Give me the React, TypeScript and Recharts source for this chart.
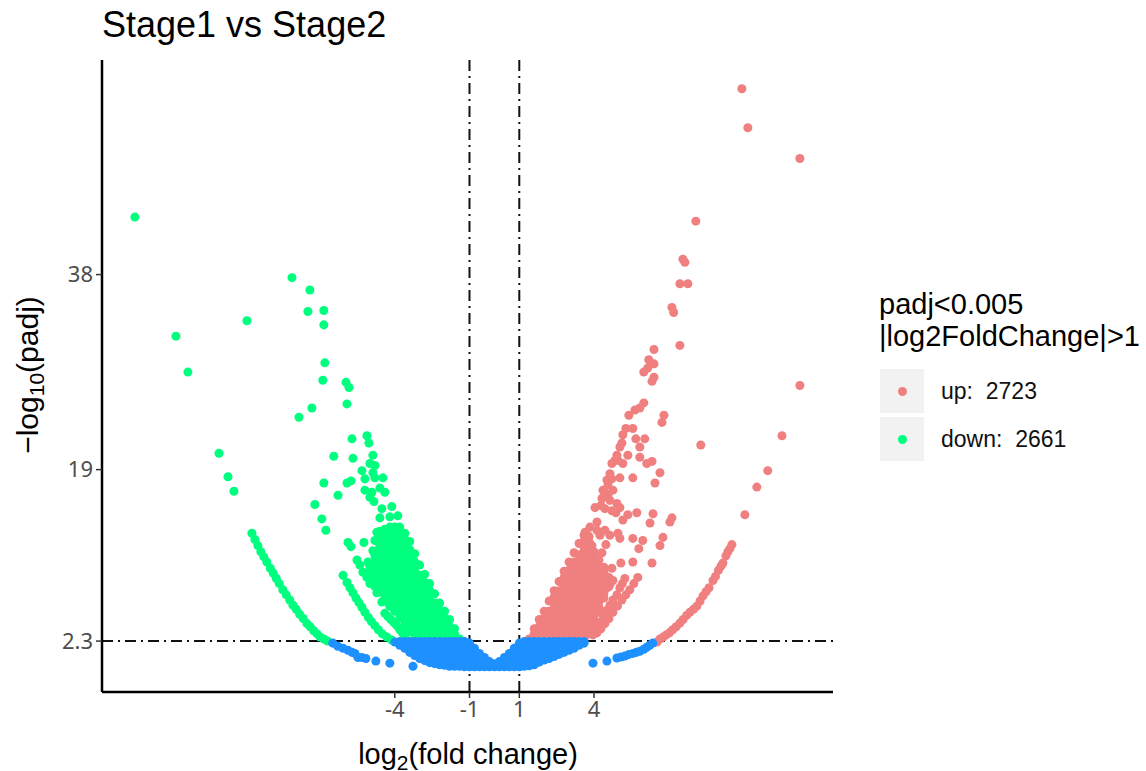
import React from 'react';
import { ScatterChart, Scatter, XAxis, YAxis, ZAxis, ReferenceLine } from 'recharts';

const W = 1146;
const H = 771;

const xTicks = [-4, -1, 1, 4];
const yTicks = [2.3, 19, 38];
const cutoffsX = [-1, 1];
const cutoffY = 2.3;
const legendTitle = ['padj<0.005', '|log2FoldChange|>1'];

const UP = '#F08080';
const DOWN = '#00FF7F';
const NS = '#1E90FF';
const SANS = '"Liberation Sans", Arial, sans-serif';

// isolated genes [log2fc, -log10padj]
const downSparse = [
  [-14.44, 43.6], [-12.79, 32], [-12.31, 28.5], [-11.06, 20.6], [-10.7, 18.3], [-10.46, 16.9],
  [-8.13, 37.7], [-7.41, 36.5], [-7.49, 34.4], [-6.85, 34.5], [-6.85, 33.1], [-9.94, 33.5],
  [-6.81, 29.4], [-6.89, 27.7], [-5.96, 27.5], [-5.84, 27], [-5.92, 25.4], [-7.33, 25], [-7.85, 24.1],
  [-5.72, 22], [-5.12, 22.3], [-5.04, 21.6], [-6.45, 20.3], [-5.68, 20.1], [-4.88, 20.4], [-5, 19.6],
  [-4.8, 19.4], [-5.32, 18.9], [-4.88, 18.7], [-5.2, 18.1], [-4.8, 18.2], [-4.48, 18.2], [-6.85, 17.7],
  [-5.76, 17.9], [-5.92, 17.7], [-5.2, 17], [-4.6, 17.2], [-4.4, 16.8], [-4.92, 16.8], [-6.28, 16.5],
  [-5, 16.3], [-4.84, 15.9], [-7.21, 15.6], [-4.52, 15.2], [-4.12, 15.4], [-6.93, 14.2], [-6.77, 13.1],
  [-4.6, 14.3], [-4.2, 14.4], [-3.88, 14.5], [-5.88, 11.9], [-5.76, 11.5], [-5.24, 11.9], [-5.52, 10.2],
  [-5.4, 9.7], [-5.08, 10], [-4.8, 12.1], [-4.72, 12.9], [-4.88, 11.1], [-5.28, 9], [-5.12, 8.5],
  [-5, 7.9], [-4.72, 7], [-4.52, 6.1],
];

// outer arcs of the volcano
const downArcFar = [
  [-9.74, 12.8], [-9.62, 12.2], [-9.5, 11.6], [-9.38, 11], [-9.26, 10.5], [-9.14, 10], [-9, 9.4], [-8.88, 8.9],
  [-8.76, 8.4], [-8.64, 7.9], [-8.5, 7.3], [-8.36, 6.8], [-8.22, 6.3], [-8.09, 5.8], [-7.96, 5.4], [-7.82, 4.9],
  [-7.68, 4.5], [-7.53, 4], [-7.4, 3.7], [-7.26, 3.3], [-7.12, 3], [-7, 2.7], [-6.85, 2.5], [-6.7, 2.3],
];
const downArcNear = [
  [-6.08, 8.7], [-5.92, 8], [-5.8, 7.5], [-5.68, 7], [-5.56, 6.5], [-5.44, 6.05], [-5.32, 5.6], [-5.2, 5.1],
  [-5.06, 4.6], [-4.94, 4.2], [-4.8, 3.8], [-4.66, 3.4], [-4.5, 3], [-4.32, 2.7], [-4.12, 2.4],
  [-4.4, 5], [-4.28, 4.7], [-4.16, 4.4], [-4.04, 4.1], [-3.92, 3.8], [-3.8, 3.4], [-3.7, 3.1], [-3.6, 2.8],
];

// dense part, one row per x: [x, y, y, ...]
const downCloud = [
  [-1.4, 2.5],
  [-1.6, 2.5, 3, 3.5],
  [-1.8, 2.7, 3.2, 3.7, 4.4],
  [-2, 2.5, 3, 3.5, 4, 4.5, 5.2],
  [-2.2, 2.7, 3.2, 3.7, 4.2, 4.7, 5.2, 6],
  [-2.4, 2.5, 3, 3.5, 4, 4.5, 5, 5.5, 6, 6.9],
  [-2.6, 2.7, 3.2, 3.7, 4.2, 4.7, 5.2, 5.7, 6.2, 6.7, 7.2, 7.9],
  [-2.8, 2.5, 3, 3.5, 4, 4.5, 5, 5.5, 6, 6.5, 7, 7.5, 8, 8.8],
  [-3, 2.7, 3.2, 3.7, 4.2, 4.7, 5.2, 5.7, 6.2, 6.7, 7.2, 7.7, 8.2, 8.7, 9.7],
  [-3.2, 2.5, 3, 3.5, 4, 4.5, 5, 5.5, 6, 6.5, 7, 7.5, 8, 8.5, 9, 9.5, 10, 10.8],
  [-3.4, 3.2, 3.7, 4.2, 4.7, 5.2, 5.7, 6.2, 6.7, 7.2, 7.7, 8.2, 8.7, 9.2, 9.7, 10.2, 10.7, 11.2, 12],
  [-3.6, 3.7, 4.2, 4.7, 5.2, 5.7, 6.2, 6.7, 7.2, 7.7, 8.2, 8.7, 9.2, 9.7, 10.2, 10.7, 11.2, 11.7, 12.2, 12.8],
  [-3.8, 4.6, 5, 5.5, 6, 6.5, 7, 7.5, 8, 8.5, 9, 9.5, 10, 10.5, 11, 11.5, 12, 12.5, 13, 13.4],
  [-4, 5.2, 5.7, 6.2, 6.7, 7.2, 7.7, 8.2, 8.7, 9.2, 9.7, 10.2, 10.7, 11.2, 11.7, 12.2, 12.7, 13.4],
  [-4.2, 5.7, 6.2, 6.7, 7.2, 7.7, 8.2, 8.7, 9.2, 9.7, 10.2, 10.7, 11.2, 11.7, 12.2, 12.7, 13.4],
  [-4.4, 6.2, 6.7, 7.2, 7.7, 8.2, 8.7, 9.2, 9.7, 10.2, 10.7, 11.2, 11.7, 12.2, 12.7, 13.2],
  [-4.6, 7.1, 7.6, 8.1, 8.6, 9.1, 9.6, 10.1, 10.6, 11.1, 11.6, 12.1, 12.6, 13],
  [-4.8, 7.6, 8.1, 8.6, 9.1, 9.6, 10.1, 10.6, 11],
  [-5, 8.6, 9.1, 9.6],
];

const upSparse = [
  [9.94, 56.1], [10.18, 52.3], [12.27, 49.3], [12.27, 27.2], [8.09, 43.2], [7.57, 39.5], [7.65, 39.2],
  [7.45, 37.1], [7.77, 37.1], [7.13, 34.8], [7.2, 34.3], [7.45, 31.1], [8.29, 21.4], [11.55, 22.3],
  [10.98, 18.9], [10.54, 17.3], [10.06, 14.6], [6.41, 30.7], [6.2, 29.7], [6.41, 29.3], [6.16, 28.9],
  [6, 28.5], [6.41, 28], [6.33, 27.6], [6, 25.5], [5.84, 25], [5.64, 24.8], [5.4, 24.3], [6.81, 24.3],
  [6.73, 23.6], [5.56, 23], [5.28, 23], [5.16, 22.4], [5.68, 22], [6.04, 22], [5.84, 21.2], [5.04, 21.2],
  [5.36, 20.4], [5.84, 20.2], [6.12, 19.6], [6.33, 19.8], [6.65, 18.7], [6.45, 17.7], [5.56, 18.2],
  [5.04, 18.2], [5.72, 14.8], [5.36, 14.6], [5.16, 14.1], [6.37, 14.7], [6.25, 13.8], [7.13, 14.3],
  [7.05, 13.9], [5.04, 15.3], [4.04, 15.3], [4.44, 15.2], [4.96, 12.8], [5.04, 12.3], [5.56, 12.3],
  [5.96, 12.1], [5.8, 11.3], [6.77, 12.4], [6.65, 11.6], [4.48, 11.7], [4.32, 10.9], [4.72, 9.4],
  [5.08, 9.9], [5.56, 10], [6.33, 9.9], [3.84, 13.4], [4.12, 13.9], [4.12, 13.1], [4.44, 13.1],
  [4.64, 12.6], [4.24, 12.6], [3.92, 11.6], [3.64, 12.9], [5.12, 21.6], [4.92, 20.4], [5.16, 19.6],
  [4.72, 19.6], [4.64, 18.6], [4.56, 17.5], [4.76, 17], [4.36, 17], [4.32, 16.2], [4.64, 16],
  [4.92, 15.7], [4.44, 16.7], [4.52, 18], [4.84, 19.9], [4.96, 19.9], [4.28, 15.5], [4.72, 18.1],
  [4.56, 16.5], [4.72, 15], [4.88, 14.8],
];

const upArcFar = [
  [6.53, 2.2], [6.65, 2.5], [6.78, 2.7], [6.9, 2.9], [7.03, 3.1], [7.16, 3.4], [7.3, 3.7], [7.45, 4.05],
  [7.58, 4.4], [7.72, 4.8], [7.85, 5.1], [8, 5.4], [8.13, 5.7], [8.26, 6.2], [8.38, 6.7], [8.5, 7.1],
  [8.62, 7.5], [8.78, 8.2], [8.88, 8.6], [9, 9.2], [9.1, 9.6], [9.18, 9.9], [9.3, 10.6], [9.38, 11],
  [9.46, 11.3], [9.54, 11.7],
];
const upArcNear = [
  [3.96, 2.9], [4.1, 3.5], [4.24, 4.1], [4.38, 4.7], [4.52, 5.3], [4.64, 5.8], [4.76, 6.3], [4.92, 6.8],
  [4.12, 3.1], [4.28, 3.5], [4.44, 4], [4.6, 4.5], [4.76, 5.1], [4.94, 5.7], [5.12, 6.3], [5.28, 6.8],
  [5.44, 7.3], [5.6, 7.9], [5.76, 8.5], [5.04, 7.5], [5.14, 7.9], [5.24, 8.4], [4.52, 7.5], [4.64, 7.8],
  [4.76, 8.2],
];

const upCloud = [
  [1.4, 2.5],
  [1.6, 2.5, 3, 3.5],
  [1.8, 2.7, 3.2, 3.7, 4.4],
  [2, 2.5, 3, 3.5, 4, 4.5, 5.2],
  [2.2, 2.7, 3.2, 3.7, 4.2, 4.7, 5.2, 6.2],
  [2.4, 2.5, 3, 3.5, 4, 4.5, 5, 5.5, 6, 6.6, 7.2],
  [2.6, 2.7, 3.2, 3.7, 4.2, 4.7, 5.2, 5.7, 6.2, 6.7, 7.2, 8.1],
  [2.8, 2.5, 3, 3.5, 4, 4.5, 5, 5.5, 6, 6.5, 7, 7.5, 8, 8.5, 9.1],
  [3, 2.7, 3.2, 3.7, 4.2, 4.7, 5.2, 5.7, 6.2, 6.7, 7.2, 7.7, 8.2, 8.7, 9.2, 10],
  [3.2, 2.5, 3, 3.5, 4, 4.5, 5, 5.5, 6, 6.5, 7, 7.5, 8, 8.5, 9, 9.5, 10, 10.9],
  [3.4, 2.7, 3.2, 3.7, 4.2, 4.7, 5.2, 5.7, 6.2, 6.7, 7.2, 7.7, 8.2, 8.7, 9.2, 9.7, 10.2, 10.7, 11.8],
  [3.6, 2.5, 3, 3.5, 4, 4.5, 5, 5.5, 6, 6.5, 7, 7.5, 8, 8.5, 9, 9.5, 10, 10.5, 11, 11.5, 12, 12.6],
  [3.8, 3, 3.5, 4, 4.5, 5, 5.5, 6, 6.5, 7, 7.5, 8, 8.5, 9, 9.5, 10, 10.5, 11, 11.5, 12, 12.5],
  [4, 4, 4.5, 5, 5.5, 6, 6.5, 7, 7.5, 8, 8.5, 9, 9.5, 10, 10.5, 11],
  [4.2, 5.1, 5.6, 6.1, 6.6, 7.1, 7.6, 8.1, 8.6, 9.1, 9.6, 10.2],
  [4.4, 6.5, 7, 7.5, 8, 8.5, 9, 9.5],
  [4.6, 7.6, 8.5],
];

const nsCloud = [
  [-4, 2.2],
  [-3.8, 1.9, 2.25],
  [-3.6, 1.6, 2.25],
  [-3.4, 1.2, 1.7, 2.25],
  [-3.2, 0.9, 1.4, 1.85, 2.25],
  [-3, 0.6, 1.1, 1.6, 2.25],
  [-2.8, 0.4, 0.9, 1.4, 1.85, 2.25],
  [-2.6, 0.2, 0.7, 1.2, 1.7, 2.25],
  [-2.4, 0.1, 0.6, 1.1, 1.6, 2.25],
  [-2.2, 0, 0.45, 0.95, 1.45, 1.9, 2.25],
  [-2, -0.05, 0.4, 0.9, 1.35, 1.8, 2.25],
  [-1.8, -0.15, 0.3, 0.8, 1.3, 1.8, 2.25],
  [-1.6, -0.15, 0.45, 0.95, 1.45, 1.9, 2.25],
  [-1.4, -0.15, 0.3, 0.8, 1.3, 1.8, 2.25],
  [-1.2, -0.2, 0.45, 0.95, 1.45, 1.9, 2.25],
  [-1, -0.2, 0.3, 0.8, 1.3, 1.8, 2.1],
  [-0.8, -0.2, 0.45, 0.95, 1.3, 1.6],
  [-0.6, -0.2, 0.3, 0.8, 1.1],
  [-0.4, -0.2, 0.25, 0.7],
  [-0.2, -0.2, 0.3],
  [0, -0.2, 0.1],
  [0.2, -0.2, 0.3],
  [0.4, -0.2, 0.25, 0.7],
  [0.6, -0.2, 0.3, 0.8, 1.1],
  [0.8, -0.2, 0.45, 0.95, 1.3, 1.6],
  [1, -0.2, 0.3, 0.8, 1.3, 1.8, 2.1],
  [1.2, -0.15, 0.45, 0.95, 1.45, 1.9, 2.25],
  [1.4, -0.1, 0.3, 0.8, 1.3, 1.8, 2.25],
  [1.6, 0, 0.45, 0.95, 1.45, 1.9, 2.25],
  [1.8, 0.25, 0.7, 1.2, 1.7, 2.25],
  [2, 0.45, 0.9, 1.35, 1.8, 2.25],
  [2.2, 0.6, 1.1, 1.6, 2.25],
  [2.4, 0.8, 1.25, 1.75, 2.25],
  [2.6, 1, 1.5, 2.25],
  [2.8, 1.2, 1.7, 2.25],
  [3, 1.4, 1.85, 2.25],
  [3.2, 1.6, 2.25],
  [3.4, 1.9, 2.25],
  [3.6, 2.1, 2.25],
];

const nsTails = [
  [-6.49, 2.1], [-6.29, 1.8], [-6.08, 1.6], [-5.88, 1.4], [-5.72, 1.2], [-5.6, 1.1], [-5.48, 0.7], [-5.32, 0.7],
  [-5.16, 0.6], [-4.76, 0.35], [-4.2, 0.15], [-3.27, -0.15],
  [3.96, 0.15], [4.52, 0.35], [4.92, 0.65], [5.08, 0.75], [5.24, 0.85], [5.4, 1], [5.56, 1.1], [5.7, 1.2],
  [5.84, 1.3], [6, 1.5], [6.12, 1.7], [6.24, 1.9], [6.36, 2.1],
];

const toPoints = (pairs: number[][]) => pairs.map(([x, y]) => ({ x, y }));
const rowsToPoints = (rows: number[][]) =>
  rows.flatMap(([x, ...ys]) => ys.map((y) => ({ x, y })));

const upData = [...rowsToPoints(upCloud), ...toPoints(upArcNear), ...toPoints(upArcFar), ...toPoints(upSparse)];
const downData = [...rowsToPoints(downCloud), ...toPoints(downArcNear), ...toPoints(downArcFar), ...toPoints(downSparse)];
const nsData = [...rowsToPoints(nsCloud), ...toPoints(nsTails)];

const legendItems = [
  { label: 'up:  2723', color: UP },
  { label: 'down:  2661', color: DOWN },
];

const VolcanoLegend = () => (
  <div style={{ position: 'absolute', left: 879, top: 288, width: 267, fontFamily: SANS, color: '#000' }}>
    <div style={{ fontSize: 29, lineHeight: '32px', whiteSpace: 'nowrap', height: 64, marginBottom: 17 }}>
      {legendTitle.map((t) => <div key={t}>{t}</div>)}
    </div>
    {legendItems.map((it) => (
      <div key={it.label} style={{ display: 'flex', alignItems: 'center', height: 44, marginBottom: 4, marginLeft: 1 }}>
        <div style={{ width: 44, height: 44, background: '#f2f2f2', display: 'flex', alignItems: 'center', justifyContent: 'center' }}>
          <div style={{ width: 9, height: 9, borderRadius: '50%', background: it.color }} />
        </div>
        <span style={{ marginLeft: 17, fontSize: 23, whiteSpace: 'pre', color: '#111' }}>{it.label}</span>
      </div>
    ))}
  </div>
);

const tickStyle = { fill: '#4d4d4d', fontSize: 22, fontFamily: '"Noto Sans", sans-serif' };

export default function App() {
  return (
    <div style={{ position: 'absolute', left: 0, top: 0, width: W, height: H }}>
      <ScatterChart width={W} height={H} margin={{ top: 60, right: 313, bottom: 0, left: 0 }}>
        <XAxis type="number" dataKey="x" domain={[-15.76, 13.6]} ticks={xTicks} allowDataOverflow interval={0}
          height={79} tick={tickStyle} tickSize={6} tickMargin={3}
          axisLine={{ stroke: '#000', strokeWidth: 2.5 }} tickLine={{ stroke: '#333', strokeWidth: 1.5 }} />
        <YAxis type="number" dataKey="y" domain={[-2.66, 58.9]} ticks={yTicks} allowDataOverflow interval={0}
          width={102} tick={tickStyle} tickSize={6} tickMargin={3}
          axisLine={{ stroke: '#000', strokeWidth: 2.5 }} tickLine={{ stroke: '#333', strokeWidth: 1.5 }} />
        <ZAxis range={[38, 38]} />
        <Scatter name="up" data={upData} fill={UP} isAnimationActive={false} />
        <Scatter name="down" data={downData} fill={DOWN} isAnimationActive={false} />
        <Scatter name="ns" data={nsData} fill={NS} isAnimationActive={false} />
        {cutoffsX.map((v) => (
          <ReferenceLine key={v} x={v} stroke="#111" strokeWidth={2} strokeDasharray="11 5 2 5" />
        ))}
        <ReferenceLine y={cutoffY} stroke="#111" strokeWidth={2} strokeDasharray="11 5 2 5" />
        <text x={102} y={37} fontFamily={SANS} fontSize={36} fill="#000">Stage1 vs Stage2</text>
        <text x={468} y={764} textAnchor="middle" fontFamily={SANS} fontSize={29} fill="#000">
          log<tspan fontSize={21} dy={6}>2</tspan><tspan dy={-6}>(fold change)</tspan>
        </text>
        <text transform="translate(38,375) rotate(-90)" textAnchor="middle" fontFamily={SANS} fontSize={30} fill="#000">
          −log<tspan fontSize={21} dy={6}>10</tspan><tspan dy={-6}>(padj)</tspan>
        </text>
      </ScatterChart>
      <VolcanoLegend />
    </div>
  );
}
